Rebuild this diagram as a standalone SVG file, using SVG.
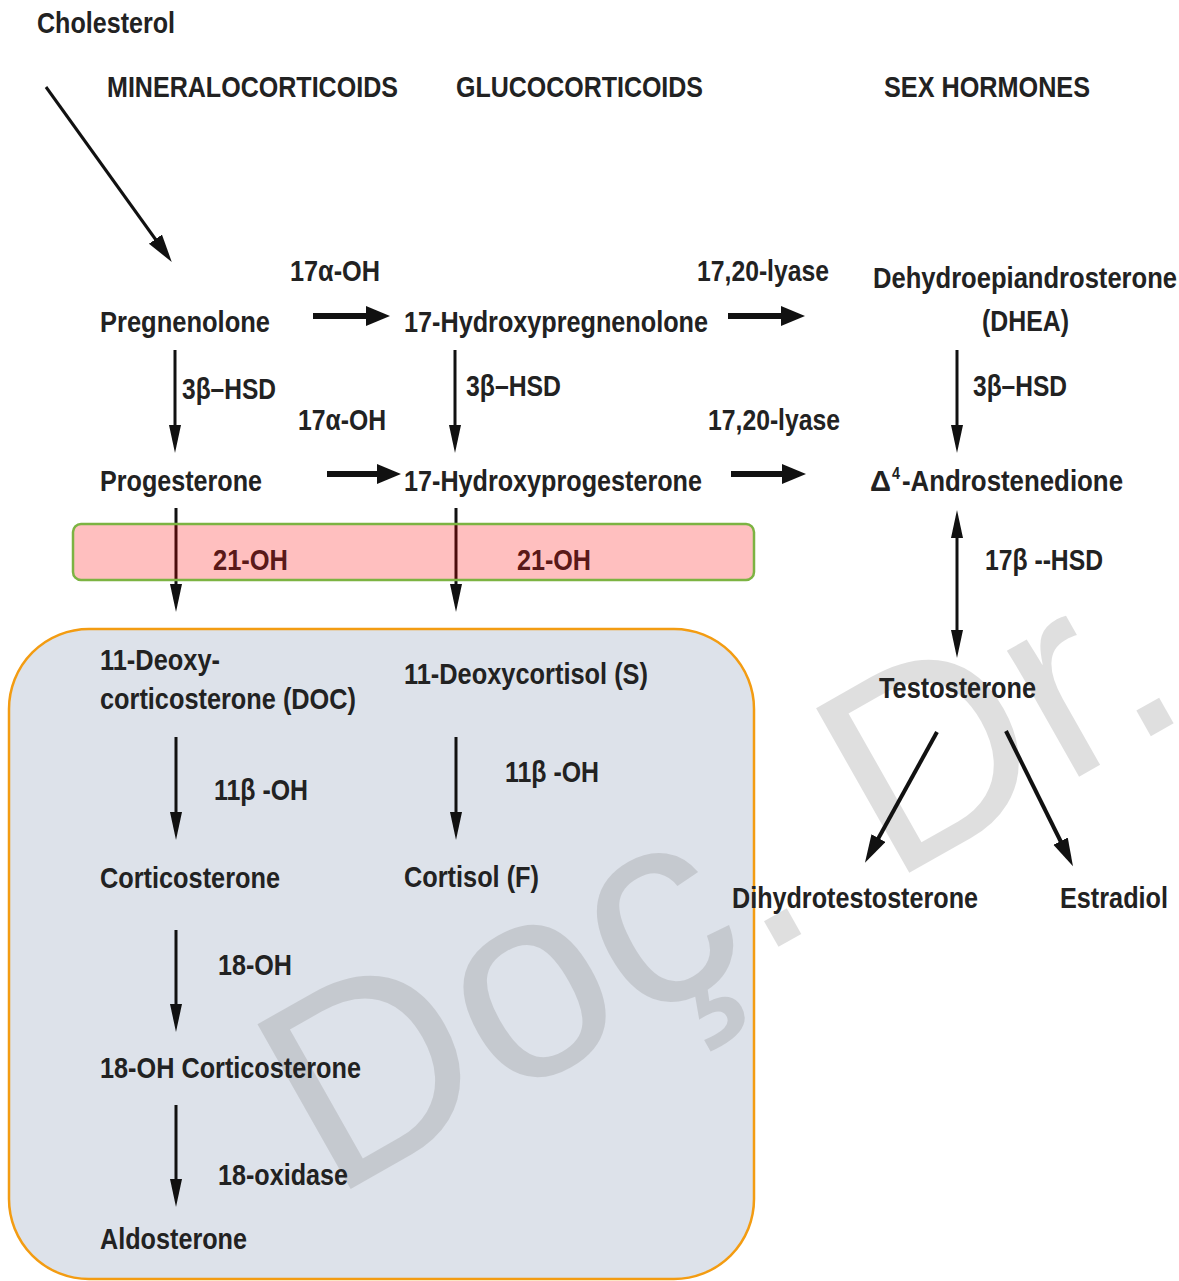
<svg xmlns="http://www.w3.org/2000/svg" width="1179" height="1281" viewBox="0 0 1179 1281">
<style>
text{font-family:"Liberation Sans",Arial,sans-serif;font-weight:bold;font-size:30px;fill:#222}
.wm{font-family:"Liberation Sans",Arial,sans-serif;font-weight:normal;font-size:275px;fill:#808080;fill-opacity:.25}
.thin{stroke:#111;stroke-width:3;fill:none}
.thick{stroke:#111;stroke-width:6;fill:none}
.diag{stroke:#111;stroke-width:4;fill:none}
</style>
<defs>
<marker id="hs" markerUnits="userSpaceOnUse" markerWidth="30" markerHeight="14" refX="1" refY="6.5" orient="auto-start-reverse"><path d="M0,0.5 L28,6.5 L0,12.5 z" fill="#111"/></marker>
<marker id="hb" markerUnits="userSpaceOnUse" markerWidth="26" markerHeight="22" refX="1" refY="10" orient="auto"><path d="M0,0 L24,10 L0,20 z" fill="#111"/></marker>
<marker id="hd" markerUnits="userSpaceOnUse" markerWidth="30" markerHeight="18" refX="1" refY="8" orient="auto"><path d="M0,0 L28,8 L0,16 z" fill="#111"/></marker>
</defs>
<rect width="1179" height="1281" fill="#fff"/>

<g id="glucoBox"><rect x="9" y="629" width="745" height="650" rx="80" fill="#dde2ea" stroke="#f39c12" stroke-width="2.5"/></g>

<g id="watermark"><text class="wm" transform="translate(331,1200) rotate(-29.5)">Doç. Dr.</text></g>

<g id="connectors">
<line class="thin" x1="46" y1="87" x2="156" y2="240" marker-end="url(#hd)"/>
<line class="thick" x1="313" y1="316" x2="367" y2="316" marker-end="url(#hb)"/>
<line class="thick" x1="728" y1="316" x2="782" y2="316" marker-end="url(#hb)"/>
<line class="thick" x1="327" y1="474" x2="378" y2="474" marker-end="url(#hb)"/>
<line class="thick" x1="731" y1="474" x2="783" y2="474" marker-end="url(#hb)"/>
<line class="thin" x1="175" y1="350" x2="175" y2="426" marker-end="url(#hs)"/>
<line class="thin" x1="455" y1="350" x2="455" y2="426" marker-end="url(#hs)"/>
<line class="thin" x1="957" y1="350" x2="957" y2="426" marker-end="url(#hs)"/>
<line class="thin" x1="176" y1="508" x2="176" y2="585" marker-end="url(#hs)"/>
<line class="thin" x1="456" y1="508" x2="456" y2="585" marker-end="url(#hs)"/>
<line class="thin" x1="176" y1="737" x2="176" y2="813" marker-end="url(#hs)"/>
<line class="thin" x1="456" y1="737" x2="456" y2="813" marker-end="url(#hs)"/>
<line class="thin" x1="176" y1="930" x2="176" y2="1005" marker-end="url(#hs)"/>
<line class="thin" x1="176" y1="1105" x2="176" y2="1180" marker-end="url(#hs)"/>
<line class="thin" x1="957" y1="537" x2="957" y2="631" marker-start="url(#hs)" marker-end="url(#hs)"/>
<line class="diag" x1="937" y1="732" x2="878" y2="839" marker-end="url(#hd)"/>
<line class="diag" x1="1006" y1="731" x2="1061" y2="842" marker-end="url(#hd)"/>
</g>

<g id="headers">
<text x="107" y="97" textLength="291" lengthAdjust="spacingAndGlyphs">MINERALOCORTICOIDS</text>
<text x="456" y="97" textLength="247" lengthAdjust="spacingAndGlyphs">GLUCOCORTICOIDS</text>
<text x="884" y="97" textLength="206" lengthAdjust="spacingAndGlyphs">SEX HORMONES</text>
</g>

<g id="cholesterol"><text x="37" y="33" textLength="138" lengthAdjust="spacingAndGlyphs">Cholesterol</text></g>
<g id="pregnenolone"><text x="100" y="332" textLength="170" lengthAdjust="spacingAndGlyphs">Pregnenolone</text></g>
<g id="ohpreg"><text x="404" y="332" textLength="304" lengthAdjust="spacingAndGlyphs">17-Hydroxypregnenolone</text></g>
<g id="dhea">
<text x="873" y="288" textLength="304" lengthAdjust="spacingAndGlyphs">Dehydroepiandrosterone</text>
<text x="982" y="331" textLength="87" lengthAdjust="spacingAndGlyphs">(DHEA)</text>
</g>
<g id="progesterone"><text x="100" y="491" textLength="162" lengthAdjust="spacingAndGlyphs">Progesterone</text></g>
<g id="ohprog"><text x="404" y="491" textLength="298" lengthAdjust="spacingAndGlyphs">17-Hydroxyprogesterone</text></g>
<g id="androstenedione">
<text x="870" y="491" textLength="21" lengthAdjust="spacingAndGlyphs">Δ</text>
<text x="892" y="479" style="font-size:17px" textLength="8" lengthAdjust="spacingAndGlyphs">4</text>
<text x="902" y="491" textLength="221" lengthAdjust="spacingAndGlyphs">-Androstenedione</text>
</g>
<g id="doc">
<text x="100" y="670" textLength="120" lengthAdjust="spacingAndGlyphs">11-Deoxy-</text>
<text x="100" y="709" textLength="256" lengthAdjust="spacingAndGlyphs">corticosterone (DOC)</text>
</g>
<g id="deoxycortisol"><text x="404" y="684" textLength="244" lengthAdjust="spacingAndGlyphs">11-Deoxycortisol (S)</text></g>
<g id="testosterone"><text x="879" y="698" textLength="157" lengthAdjust="spacingAndGlyphs">Testosterone</text></g>
<g id="corticosterone"><text x="100" y="888" textLength="180" lengthAdjust="spacingAndGlyphs">Corticosterone</text></g>
<g id="cortisol"><text x="404" y="887" textLength="135" lengthAdjust="spacingAndGlyphs">Cortisol (F)</text></g>
<g id="dht"><text x="732" y="908" textLength="246" lengthAdjust="spacingAndGlyphs">Dihydrotestosterone</text></g>
<g id="estradiol"><text x="1060" y="908" textLength="108" lengthAdjust="spacingAndGlyphs">Estradiol</text></g>
<g id="ohcort"><text x="100" y="1078" textLength="261" lengthAdjust="spacingAndGlyphs">18-OH Corticosterone</text></g>
<g id="aldosterone"><text x="100" y="1249" textLength="147" lengthAdjust="spacingAndGlyphs">Aldosterone</text></g>

<g id="enzymes">
<text x="290" y="281" textLength="90" lengthAdjust="spacingAndGlyphs">17α-OH</text>
<text x="697" y="281" textLength="132" lengthAdjust="spacingAndGlyphs">17,20-lyase</text>
<text x="182" y="399" textLength="94" lengthAdjust="spacingAndGlyphs">3β–HSD</text>
<text x="466" y="396" textLength="95" lengthAdjust="spacingAndGlyphs">3β–HSD</text>
<text x="973" y="396" textLength="94" lengthAdjust="spacingAndGlyphs">3β–HSD</text>
<text x="298" y="430" textLength="88" lengthAdjust="spacingAndGlyphs">17α-OH</text>
<text x="708" y="430" textLength="132" lengthAdjust="spacingAndGlyphs">17,20-lyase</text>
<text x="213" y="570" textLength="75" lengthAdjust="spacingAndGlyphs">21-OH</text>
<text x="517" y="570" textLength="74" lengthAdjust="spacingAndGlyphs">21-OH</text>
<text x="985" y="570" textLength="118" lengthAdjust="spacingAndGlyphs">17β --HSD</text>
<text x="214" y="800" textLength="94" lengthAdjust="spacingAndGlyphs">11β -OH</text>
<text x="505" y="782" textLength="94" lengthAdjust="spacingAndGlyphs">11β -OH</text>
<text x="218" y="975" textLength="74" lengthAdjust="spacingAndGlyphs">18-OH</text>
<text x="218" y="1185" textLength="130" lengthAdjust="spacingAndGlyphs">18-oxidase</text>
</g>

<g id="hydroxylaseBand"><rect x="73" y="524" width="681" height="56" rx="8" fill="#ff0000" fill-opacity="0.25" stroke="#7cb342" stroke-width="2.5"/></g>
</svg>
